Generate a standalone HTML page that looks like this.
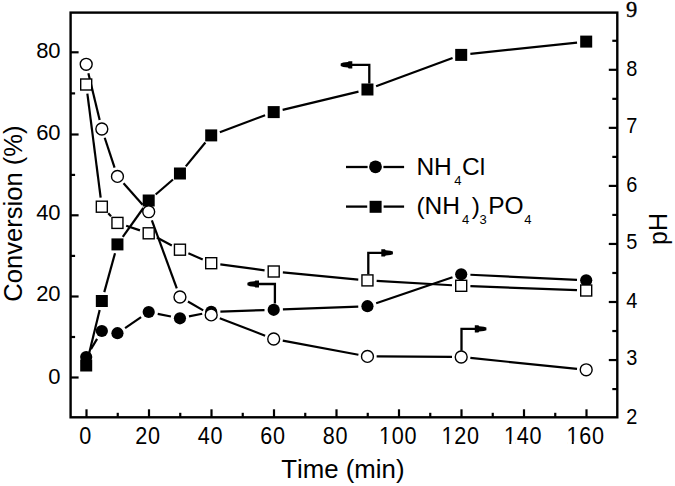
<!DOCTYPE html>
<html><head><meta charset="utf-8"><style>html,body{margin:0;padding:0;background:#fff;}svg{display:block;}text{font-kerning:none;}</style></head>
<body><svg width="675" height="486" viewBox="0 0 675 486"><rect x="70.6" y="12.6" width="546.6999999999999" height="404.7" fill="none" stroke="#000" stroke-width="2.4"/>
<g stroke="#000" stroke-width="2.2"><line x1="86.50" y1="417.3" x2="86.50" y2="409.3"/><line x1="117.75" y1="417.3" x2="117.75" y2="412.8"/><line x1="149.00" y1="417.3" x2="149.00" y2="409.3"/><line x1="180.25" y1="417.3" x2="180.25" y2="412.8"/><line x1="211.50" y1="417.3" x2="211.50" y2="409.3"/><line x1="242.75" y1="417.3" x2="242.75" y2="412.8"/><line x1="274.00" y1="417.3" x2="274.00" y2="409.3"/><line x1="305.25" y1="417.3" x2="305.25" y2="412.8"/><line x1="336.50" y1="417.3" x2="336.50" y2="409.3"/><line x1="367.75" y1="417.3" x2="367.75" y2="412.8"/><line x1="399.00" y1="417.3" x2="399.00" y2="409.3"/><line x1="430.25" y1="417.3" x2="430.25" y2="412.8"/><line x1="461.50" y1="417.3" x2="461.50" y2="409.3"/><line x1="492.75" y1="417.3" x2="492.75" y2="412.8"/><line x1="524.00" y1="417.3" x2="524.00" y2="409.3"/><line x1="555.25" y1="417.3" x2="555.25" y2="412.8"/><line x1="586.50" y1="417.3" x2="586.50" y2="409.3"/><line x1="70.6" y1="377.50" x2="78.6" y2="377.50"/><line x1="70.6" y1="337.00" x2="75.1" y2="337.00"/><line x1="70.6" y1="296.50" x2="78.6" y2="296.50"/><line x1="70.6" y1="255.90" x2="75.1" y2="255.90"/><line x1="70.6" y1="215.30" x2="78.6" y2="215.30"/><line x1="70.6" y1="174.90" x2="75.1" y2="174.90"/><line x1="70.6" y1="134.50" x2="78.6" y2="134.50"/><line x1="70.6" y1="93.40" x2="75.1" y2="93.40"/><line x1="70.6" y1="52.30" x2="78.6" y2="52.30"/><line x1="617.3" y1="389.08" x2="612.3" y2="389.08"/><line x1="617.3" y1="360.05" x2="608.8" y2="360.05"/><line x1="617.3" y1="331.03" x2="612.3" y2="331.03"/><line x1="617.3" y1="302.00" x2="608.8" y2="302.00"/><line x1="617.3" y1="272.98" x2="612.3" y2="272.98"/><line x1="617.3" y1="243.95" x2="608.8" y2="243.95"/><line x1="617.3" y1="214.93" x2="612.3" y2="214.93"/><line x1="617.3" y1="185.90" x2="608.8" y2="185.90"/><line x1="617.3" y1="156.88" x2="612.3" y2="156.88"/><line x1="617.3" y1="127.85" x2="608.8" y2="127.85"/><line x1="617.3" y1="98.83" x2="612.3" y2="98.83"/><line x1="617.3" y1="69.80" x2="608.8" y2="69.80"/><line x1="617.3" y1="40.78" x2="612.3" y2="40.78"/></g>
<g font-family="Liberation Sans, sans-serif" fill="#000"><g transform="translate(79.18,443.60) scale(0.94,1.0)"><text x="0" y="0" font-size="23" style="letter-spacing:0.826px">0</text></g><g transform="translate(135.28,443.60) scale(0.94,1.0)"><text x="0" y="0" font-size="23" style="letter-spacing:0.826px">20</text></g><g transform="translate(197.78,443.60) scale(0.94,1.0)"><text x="0" y="0" font-size="23" style="letter-spacing:0.826px">40</text></g><g transform="translate(260.28,443.60) scale(0.94,1.0)"><text x="0" y="0" font-size="23" style="letter-spacing:0.826px">60</text></g><g transform="translate(322.78,443.60) scale(0.94,1.0)"><text x="0" y="0" font-size="23" style="letter-spacing:0.826px">80</text></g><g transform="translate(378.88,443.60) scale(0.94,1.0)"><text x="0" y="0" font-size="23" style="letter-spacing:0.826px">100</text><rect x="0.95" y="-2.02" width="4.83" height="3.02" fill="#fff"/><rect x="7.82" y="-2.02" width="4.65" height="3.02" fill="#fff"/></g><g transform="translate(441.38,443.60) scale(0.94,1.0)"><text x="0" y="0" font-size="23" style="letter-spacing:0.826px">120</text><rect x="0.95" y="-2.02" width="4.83" height="3.02" fill="#fff"/><rect x="7.82" y="-2.02" width="4.65" height="3.02" fill="#fff"/></g><g transform="translate(503.88,443.60) scale(0.94,1.0)"><text x="0" y="0" font-size="23" style="letter-spacing:0.826px">140</text><rect x="0.95" y="-2.02" width="4.83" height="3.02" fill="#fff"/><rect x="7.82" y="-2.02" width="4.65" height="3.02" fill="#fff"/></g><g transform="translate(566.38,443.60) scale(0.94,1.0)"><text x="0" y="0" font-size="23" style="letter-spacing:0.826px">160</text><rect x="0.95" y="-2.02" width="4.83" height="3.02" fill="#fff"/><rect x="7.82" y="-2.02" width="4.65" height="3.02" fill="#fff"/></g><g transform="translate(48.36,383.86) scale(1.0,1.025)"><text x="0" y="0" font-size="22">0</text></g><g transform="translate(36.13,301.46) scale(1.0,1.025)"><text x="0" y="0" font-size="22">20</text></g><g transform="translate(36.13,220.46) scale(1.0,1.025)"><text x="0" y="0" font-size="22">40</text></g><g transform="translate(36.13,139.56) scale(1.0,1.025)"><text x="0" y="0" font-size="22">60</text></g><g transform="translate(36.13,58.46) scale(1.0,1.025)"><text x="0" y="0" font-size="22">80</text></g><g transform="translate(626.29,423.79) scale(0.95,1.05)"><text x="0" y="0" font-size="21" style="letter-spacing:0.615px">2</text></g><g transform="translate(626.29,365.29) scale(0.95,1.05)"><text x="0" y="0" font-size="21" style="letter-spacing:0.615px">3</text></g><g transform="translate(626.29,307.89) scale(0.95,1.05)"><text x="0" y="0" font-size="21" style="letter-spacing:0.615px">4</text></g><g transform="translate(626.29,249.49) scale(0.95,1.05)"><text x="0" y="0" font-size="21" style="letter-spacing:0.615px">5</text></g><g transform="translate(626.29,191.99) scale(0.95,1.05)"><text x="0" y="0" font-size="21" style="letter-spacing:0.615px">6</text></g><g transform="translate(626.29,133.49) scale(0.95,1.05)"><text x="0" y="0" font-size="21" style="letter-spacing:0.615px">7</text></g><g transform="translate(626.29,76.29) scale(0.95,1.05)"><text x="0" y="0" font-size="21" style="letter-spacing:0.615px">8</text></g><text x="626.1" y="17.2" font-size="22.5" font-family="Liberation Serif, serif" stroke="#000" stroke-width="0.35">9</text><text x="342.9" y="478" text-anchor="middle" font-size="25.8">Time (min)</text><text transform="translate(21.8,213.6) rotate(-90)" text-anchor="middle" font-size="25.6">Conversion (%)</text><text transform="translate(667,229) rotate(-90)" text-anchor="middle" font-size="25">pH</text><text x="416.4" y="175" font-size="24.5">NH</text><text x="454.2" y="185" font-size="13">4</text><text x="462.0" y="175" font-size="24.5">Cl</text><text x="416.4" y="214" font-size="24.5">(NH</text><text x="462.0" y="224" font-size="13">4</text><text x="471.8" y="214" font-size="24.5">)</text><text x="479.6" y="224" font-size="13">3</text><text x="488.2" y="214" font-size="24.5">PO</text><text x="524.2" y="224" font-size="13">4</text></g>
<g stroke="#000" stroke-width="2.2" fill="none"><line x1="88.37" y1="356.56" x2="99.66" y2="309.94"/>
<line x1="104.27" y1="292.13" x2="115.00" y2="253.27"/>
<line x1="122.79" y1="236.91" x2="143.36" y2="207.99"/>
<line x1="155.66" y1="194.49" x2="172.99" y2="179.51"/>
<line x1="185.78" y1="166.39" x2="205.37" y2="142.51"/>
<line x1="219.82" y1="132.19" x2="265.08" y2="115.31"/>
<line x1="282.64" y1="109.94" x2="358.51" y2="91.66"/>
<line x1="376.08" y1="86.31" x2="452.57" y2="58.09"/>
<line x1="470.35" y1="53.93" x2="577.05" y2="42.57"/><line x1="90.94" y1="349.11" x2="97.09" y2="338.89"/>
<line x1="125.06" y1="328.04" x2="141.09" y2="317.16"/>
<line x1="157.72" y1="313.82" x2="170.93" y2="316.48"/>
<line x1="188.96" y1="316.45" x2="202.19" y2="313.75"/>
<line x1="220.39" y1="311.59" x2="264.51" y2="310.11"/>
<line x1="282.89" y1="309.45" x2="358.26" y2="306.55"/>
<line x1="376.16" y1="303.24" x2="452.49" y2="277.26"/>
<line x1="470.39" y1="274.74" x2="577.01" y2="279.86"/><line x1="88.36" y1="73.24" x2="99.67" y2="120.06"/>
<line x1="104.71" y1="137.74" x2="114.57" y2="167.66"/>
<line x1="123.55" y1="183.29" x2="142.60" y2="204.81"/>
<line x1="151.86" y1="220.34" x2="176.79" y2="288.36"/>
<line x1="187.93" y1="301.57" x2="203.22" y2="310.33"/>
<line x1="219.78" y1="318.21" x2="265.12" y2="335.69"/>
<line x1="282.75" y1="340.68" x2="358.40" y2="354.72"/>
<line x1="376.65" y1="356.46" x2="452.00" y2="356.94"/>
<line x1="470.35" y1="357.94" x2="577.05" y2="368.86"/><line x1="87.37" y1="93.63" x2="100.66" y2="197.57"/>
<line x1="108.21" y1="213.32" x2="111.06" y2="216.28"/>
<line x1="126.18" y1="225.81" x2="139.97" y2="230.39"/>
<line x1="156.85" y1="237.58" x2="171.80" y2="245.42"/>
<line x1="188.40" y1="253.35" x2="202.75" y2="259.55"/>
<line x1="220.32" y1="264.41" x2="264.58" y2="270.29"/>
<line x1="282.86" y1="272.37" x2="358.29" y2="279.53"/>
<line x1="376.63" y1="280.93" x2="452.02" y2="285.27"/>
<line x1="470.39" y1="286.15" x2="577.01" y2="290.15"/></g>
<rect x="80.20" y="359.50" width="12.00" height="12.00" fill="#000"/>
<rect x="95.83" y="295.00" width="12.00" height="12.00" fill="#000"/>
<rect x="111.45" y="238.40" width="12.00" height="12.00" fill="#000"/>
<rect x="142.70" y="194.50" width="12.00" height="12.00" fill="#000"/>
<rect x="173.95" y="167.50" width="12.00" height="12.00" fill="#000"/>
<rect x="205.20" y="129.40" width="12.00" height="12.00" fill="#000"/>
<rect x="267.70" y="106.10" width="12.00" height="12.00" fill="#000"/>
<rect x="361.45" y="83.50" width="12.00" height="12.00" fill="#000"/>
<rect x="455.20" y="48.90" width="12.00" height="12.00" fill="#000"/>
<rect x="580.20" y="35.60" width="12.00" height="12.00" fill="#000"/>
<circle cx="86.20" cy="357.00" r="6.1" fill="#000"/>
<circle cx="101.83" cy="331.00" r="6.1" fill="#000"/>
<circle cx="117.45" cy="333.20" r="6.1" fill="#000"/>
<circle cx="148.70" cy="312.00" r="6.1" fill="#000"/>
<circle cx="179.95" cy="318.30" r="6.1" fill="#000"/>
<circle cx="211.20" cy="311.90" r="6.1" fill="#000"/>
<circle cx="273.70" cy="309.80" r="6.1" fill="#000"/>
<circle cx="367.45" cy="306.20" r="6.1" fill="#000"/>
<circle cx="461.20" cy="274.30" r="6.1" fill="#000"/>
<circle cx="586.20" cy="280.30" r="6.1" fill="#000"/>
<circle cx="86.20" cy="64.30" r="5.95" fill="#fff" stroke="#000" stroke-width="1.4"/>
<circle cx="101.83" cy="129.00" r="5.95" fill="#fff" stroke="#000" stroke-width="1.4"/>
<circle cx="117.45" cy="176.40" r="5.95" fill="#fff" stroke="#000" stroke-width="1.4"/>
<circle cx="148.70" cy="211.70" r="5.95" fill="#fff" stroke="#000" stroke-width="1.4"/>
<circle cx="179.95" cy="297.00" r="5.95" fill="#fff" stroke="#000" stroke-width="1.4"/>
<circle cx="211.20" cy="314.90" r="5.95" fill="#fff" stroke="#000" stroke-width="1.4"/>
<circle cx="273.70" cy="339.00" r="5.95" fill="#fff" stroke="#000" stroke-width="1.4"/>
<circle cx="367.45" cy="356.40" r="5.95" fill="#fff" stroke="#000" stroke-width="1.4"/>
<circle cx="461.20" cy="357.00" r="5.95" fill="#fff" stroke="#000" stroke-width="1.4"/>
<circle cx="586.20" cy="369.80" r="5.95" fill="#fff" stroke="#000" stroke-width="1.4"/>
<rect x="80.70" y="79.00" width="11.00" height="11.00" fill="#fff" stroke="#000" stroke-width="1.4"/>
<rect x="96.33" y="201.20" width="11.00" height="11.00" fill="#fff" stroke="#000" stroke-width="1.4"/>
<rect x="111.95" y="217.40" width="11.00" height="11.00" fill="#fff" stroke="#000" stroke-width="1.4"/>
<rect x="143.20" y="227.80" width="11.00" height="11.00" fill="#fff" stroke="#000" stroke-width="1.4"/>
<rect x="174.45" y="244.20" width="11.00" height="11.00" fill="#fff" stroke="#000" stroke-width="1.4"/>
<rect x="205.70" y="257.70" width="11.00" height="11.00" fill="#fff" stroke="#000" stroke-width="1.4"/>
<rect x="268.20" y="266.00" width="11.00" height="11.00" fill="#fff" stroke="#000" stroke-width="1.4"/>
<rect x="361.95" y="274.90" width="11.00" height="11.00" fill="#fff" stroke="#000" stroke-width="1.4"/>
<rect x="455.70" y="280.30" width="11.00" height="11.00" fill="#fff" stroke="#000" stroke-width="1.4"/>
<rect x="580.70" y="285.00" width="11.00" height="11.00" fill="#fff" stroke="#000" stroke-width="1.4"/>
<polyline points="369.3,83.5 369.3,64.8 348.7,64.8" fill="none" stroke="#000" stroke-width="2.3"/><polygon points="340.70,63.50 343.20,62.60 347.90,62.10 348.70,61.20 352.30,61.20 352.30,68.40 348.70,68.40 347.90,67.50 343.20,67.00 340.70,66.10" fill="#000"/>
<polyline points="274.9,303.5 274.9,284 255.4,284" fill="none" stroke="#000" stroke-width="2.3"/><polygon points="247.40,282.70 249.90,281.80 254.60,281.30 255.40,280.40 259.00,280.40 259.00,287.60 255.40,287.60 254.60,286.70 249.90,286.20 247.40,285.30" fill="#000"/>
<polyline points="368.3,274.3 368.3,252.9 384.9,252.9" fill="none" stroke="#000" stroke-width="2.3"/><polygon points="392.90,251.60 390.40,250.70 385.70,250.20 384.90,249.30 381.30,249.30 381.30,256.50 384.90,256.50 385.70,255.60 390.40,255.10 392.90,254.20" fill="#000"/>
<polyline points="461.5,350.7 461.5,328.9 478.4,328.9" fill="none" stroke="#000" stroke-width="2.3"/><polygon points="486.40,327.60 483.90,326.70 479.20,326.20 478.40,325.30 474.80,325.30 474.80,332.50 478.40,332.50 479.20,331.60 483.90,331.10 486.40,330.20" fill="#000"/>
<g stroke="#000" stroke-width="2.3"><line x1="346" y1="167" x2="367.6" y2="167"/><line x1="383.4" y1="167" x2="404.1" y2="167"/><line x1="346" y1="206.6" x2="367.2" y2="206.6"/><line x1="383.6" y1="206.6" x2="404.1" y2="206.6"/></g>
<circle cx="375.5" cy="166.8" r="6.4" fill="#000"/>
<rect x="369.6" y="200.8" width="12" height="12" fill="#000"/></svg></body></html>
